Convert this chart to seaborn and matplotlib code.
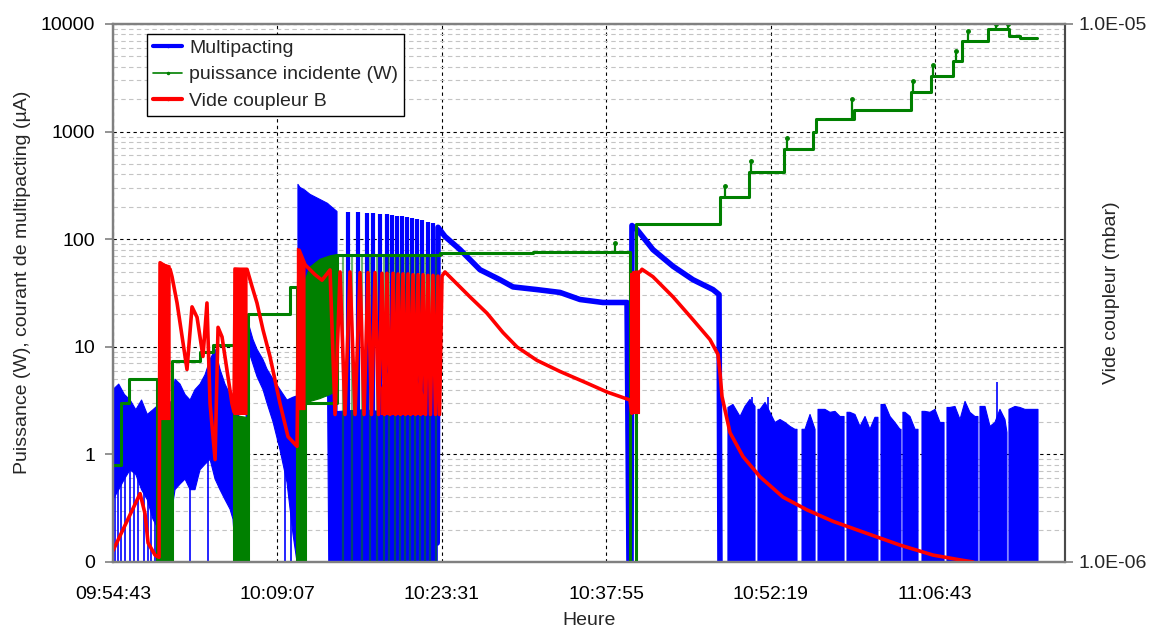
import numpy as np
import matplotlib
matplotlib.use("Agg")
import matplotlib.pyplot as plt
import seaborn as sns
from matplotlib.lines import Line2D
from matplotlib.ticker import LogLocator, NullLocator, NullFormatter

nan = np.nan

# time axis: minutes after 09:54:43
x_labels = ["09:54:43", "10:09:07", "10:23:31", "10:37:55", "10:52:19", "11:06:43"]
x_max = 83.4

# Multipacting (uA) - noisy envelopes (NaN separates pieces)
mp_band_t = [0.0, 0.5, 1.0, 1.5, 2.0, 2.5, 3.0, 3.5, 4.0, 4.56, 5.17, 5.43, 5.87, 6.31, 6.75, 7.18,
             7.62, 8.06, 8.50, 8.94, 9.37, 9.81, 10.25, 10.51, 10.77, 11.65, 11.83, 12.26, 12.61,
             13.14, 13.49, 14.02, 14.63, 15.24, 15.77, 16.12, nan,
             16.2, 16.38, 16.82, 16.9, 17.26, 18.13, 18.8, 18.9, 19.62, nan,
             19.62, 22.0, 25.0, 28.4]
mp_band_lo = [0.38, 0.47, 0.59, 0.72, 0.65, 0.47, 0.38, 0.25, 0.2, 0.28, 0.31, 0.47, 0.53, 0.59, 0.47,
              0.47, 0.72, 0.81, 0.9, 0.59, 0.47, 0.38, 0.31, 0.25, 0.1, 0.1, 9.5, 6.9, 5.3, 4.0,
              3.0, 2.0, 1.1, 0.55, 0.18, 0.1, nan,
              0.1, 0.1, 0.1, 3.5, 3.5, 3.5, 3.5, 0.1, 0.1, nan,
              0.1, 0.1, 0.1, 0.1]
mp_band_hi = [4.0, 4.5, 3.6, 3.2, 2.6, 3.2, 2.35, 2.6, 2.9, 2.6, 3.2, 5.0, 4.5, 3.6, 3.2, 4.0, 4.5,
              5.5, 7.6, 9.5, 6.2, 4.5, 3.6, 3.2, 2.4, 2.0, 16.9, 11.7, 9.5, 7.6, 6.2, 5.0, 4.0,
              3.2, 3.4, 3.5, nan,
              323, 303, 285, 280, 261, 234, 215, 210, 181, nan,
              2.5, 2.6, 2.4, 2.4]
# multipacting bursts
mp_spike_t = [20.59, 21.46, 22.25, 22.78, 23.39, 24.0, 24.44, 24.88, 25.32, 25.75, 26.19, 26.63,
              27.07, 27.59, 28.03]
mp_spike_top = [178, 178, 175, 175, 172, 170, 168, 165, 163, 160, 157, 153, 150, 146, 140]
# smooth parts
mp_t = [28.40, 28.47, 29.08, 30.40, 32.15, 33.90, 35.04, 37.14, 39.16, 40.91, 42.92, 45.03, 45.20,
        45.38, 45.46, 45.90, 47.30, 49.06, 50.81, 52.56, 53.09, 53.17]
mp_v = [0.15, 129, 106, 80, 52, 42, 36, 34, 32, 27.5, 25.8, 25.8, 0.1, 0.1, 134, 123, 80, 56, 42,
        34, 30.6, 0.1]
# noise after 10:48 (upper edge, NaN = gap)
mp_noise_t = [53.87, 54.31, 54.93, 55.36, 55.80, 56.24, nan,
              56.50, 56.68, 57.12, 57.55, 57.99, 58.43, 58.87, 59.31, 59.74, 59.92, nan,
              60.36, 60.62, 61.06, 61.50, nan,
              61.76, 61.93, 62.37, 62.81, 63.25, 63.69, 64.04, nan,
              64.30, 64.56, 65.00, 65.44, 65.88, 66.31, 66.75, 67.01, nan,
              67.28, 67.63, 68.07, 68.50, 68.94, 69.03, nan,
              69.20, 69.38, 69.82, 70.26, 70.52, nan,
              70.87, 71.13, 71.57, 72.01, 72.45, 72.80, nan,
              73.06, 73.32, 73.76, 74.20, 74.64, 75.07, 75.51, 75.77, nan,
              75.95, 76.39, 76.83, 77.26, 77.70, 78.14, 78.31, nan,
              78.49, 79.02, 79.45, 79.89, 80.33, 80.77, 81.03]
mp_noise_top = [2.73, 2.91, 2.25, 2.79, 3.24, 2.79, nan,
                2.62, 2.62, 3.04, 2.46, 1.98, 2.11, 1.98, 1.82, 1.71, 1.71, nan,
                1.71, 1.71, 2.35, 1.71, nan,
                2.62, 2.62, 2.62, 2.46, 2.51, 2.25, 2.25, nan,
                2.46, 2.46, 2.35, 1.82, 2.25, 1.71, 2.21, 2.21, nan,
                2.91, 2.91, 2.25, 1.98, 1.71, 1.71, nan,
                2.46, 2.46, 2.25, 1.71, 1.71, nan,
                2.51, 2.51, 2.46, 2.62, 1.98, 1.98, nan,
                2.73, 2.73, 2.79, 2.11, 3.11, 2.46, 2.25, 2.25, nan,
                2.79, 2.79, 1.82, 1.98, 2.62, 2.11, 1.60, nan,
                2.62, 2.79, 2.73, 2.62, 2.62, 2.62, 2.62]
# isolated vertical strokes
mp_vl_t = [0.18, 0.46, 0.70, 1.05, 1.49, 1.84, 2.22, 2.74, 3.04, 3.33, 3.68, 6.75, 8.32, 15.07,
           15.55, 55.97, 57.38, 77.44]
mp_vl_lo = [0.1] * 18
mp_vl_hi = [0.6, 0.6, 0.7, 0.8, 0.8, 0.7, 0.6, 0.5, 0.5, 0.4, 0.4, 0.6, 0.9, 1.1, 0.5, 3.39, 3.39, 4.67]

# puissance incidente (W) - staircase
pw_t = [0.0, 0.70, 1.40, 3.85, 5.17, 7.62, 8.80, 10.6, 11.83, 15.51, 16.12, 16.82, 19.62, 28.65,
        36.79, 45.29, 45.81, 53.17, 55.71, 58.78, 61.32, 61.58, 64.91, 69.90, 71.66, 73.58, 74.37,
        76.65, 78.49, 79.45, 80.94]
pw_v = [0.8, 3.0, 5.0, 0.1, 7.3, 9.0, 10.5, 0.1, 20, 36, 0.1, 3.0, 72, 75, 76, 0.1, 137, 245, 418,
        684, 1000, 1298, 1576, 2313, 3256, 4490, 6890, 8912, 7670, 7346, 7346]
pw_band_t = [3.90, 5.17, nan, 10.65, 11.8, nan, 16.12, 16.80, 16.84, 17.26, 18.13, 19.01, 19.62]
pw_band_lo = [0.1, 0.1, nan, 0.1, 0.1, nan, 0.1, 0.1, 3.0, 3.1, 3.3, 3.6, 3.9]
pw_band_hi = [2.1, 2.1, nan, 2.3, 2.2, nan, 3.0, 3.0, 42, 55, 65, 70, 72]
pw_drop_t = [20.15, 20.94, 21.81, 22.51, 23.13, 23.74, 24.18, 24.70, 25.14, 25.58, 26.02, 26.46,
             26.89, 27.33, 27.77, 28.29]
pw_blip_t = [43.98, 53.61, 55.89, 59.04, 64.74, 70.08, 71.83, 73.85, 74.90, 77.35, 78.40]
pw_blip_base = [76, 245, 418, 684, 1298, 2313, 3256, 4490, 6890, 8912, 8912]
pw_blip_top = [93, 310, 528, 865, 1992, 2930, 4120, 5560, 8530, 9910, 9910]

# Vide coupleur B (x 1e-6 mbar), right axis
vac_t = [0.0, 2.37, 2.80, 3.07, 3.68, 4.03, 4.12, 5.0, 5.17, 5.61, 6.48, 6.92, 7.36, 7.88, 8.23,
         8.50, 8.94, 9.20, 9.55, 10.07, 10.42, 10.6, 10.7, 11.74, 12.18, 12.61, 13.14, 13.75,
         14.63, 15.33, 16.12, 16.3, 16.82, 17.70, 18.31, 19.01,
         19.45, 19.89, 20.32, 20.76, 21.20, 21.64, 21.99, 22.34, 22.64, 22.95, 23.26, 23.56, 23.78,
         24.0, 24.27, 24.53, 24.75, 24.97, 25.18, 25.40, 25.62, 25.84, 26.06, 26.28, 26.50, 26.72,
         26.94, 27.16, 27.38, 27.59, 27.81, 28.03, 28.25, 28.47, 28.60,
         28.82, 29.08, 31.27, 32.76, 34.16, 35.39, 37.14, 39.16, 41.52, 43.27, 45.29, 45.45, 45.6,
         46.17, 46.34, 47.30, 49.06, 50.81, 52.30, 53.0, 53.17, 53.35, 54.05, 55.19, 56.68, 58.69,
         60.79, 63.07, 66.05, 68.94, 71.83, 74.20, 75.34]
vac_p = [1.05, 1.34, 1.23, 1.085, 1.03, 1.02, 3.6, 3.5, 3.39, 3.03, 2.28, 2.98, 2.85, 2.41, 3.03,
         1.97, 1.55, 2.73, 2.62, 2.21, 1.97, 1.9, 3.5, 3.5, 3.25, 3.03, 2.70, 2.41, 1.97, 1.71, 1.64,
         3.8, 3.57, 3.42, 3.34, 3.49,
         1.88, 3.46, 1.88, 3.46, 1.88, 3.45, 1.88, 3.45, 1.88, 3.45, 1.88, 3.44, 1.88, 3.44, 1.88,
         3.44, 1.88, 3.43, 1.88, 3.43, 1.88, 3.43, 1.88, 3.42, 1.88, 3.42, 1.88, 3.42, 1.88, 3.41,
         1.88, 3.41, 1.88, 3.40, 1.88,
         3.40, 3.46, 3.11, 2.90, 2.67, 2.51, 2.37, 2.26, 2.15, 2.07, 2.0, 1.89, 3.45, 3.46, 3.50,
         3.39, 3.11, 2.82, 2.59, 2.43, 2.25, 2.03, 1.74, 1.57, 1.44, 1.32, 1.25, 1.19, 1.13, 1.075,
         1.03, 1.009, 1.0]
vac_band_t = [4.10, 5.0, nan, 10.6, 11.74, nan, 16.15, 16.82, nan, 23.5, 24.3, 24.9, 25.6, 26.5,
              27.4, nan, 45.3, 46.1]
vac_band_lo = [1.84, 1.84, nan, 1.88, 1.88, nan, 1.92, 1.92, nan, 1.88, 1.88, 1.88, 1.88, 1.88,
               1.88, nan, 1.89, 1.89]
vac_band_hi = [3.6, 3.55, nan, 3.52, 3.5, nan, 3.83, 3.6, nan, 2.1, 2.3, 2.42, 2.3, 2.2, 2.0, nan,
               3.45, 3.45]
vac_scale = 1e-6

labels = ["Multipacting", "puissance incidente (W)", "Vide coupleur B"]


def to_min(s):
    h, m, sec = map(int, s.split(":"))
    return h * 60 + m + sec / 60


x_pos = [to_min(s) - to_min(x_labels[0]) for s in x_labels]

sns.set_theme(style="white")
plt.rcParams['font.family'] = ['Liberation Sans', 'DejaVu Sans']
fs = 14

fig = plt.figure(figsize=(11.51, 6.33), dpi=100)
ax = fig.add_axes([0.0982, 0.1122, 0.8271, 0.8499])
ax.set_yscale("log")

blue = "#0000ff"
green = "#008000"
red = "#ff0000"

# multipacting
ax.fill_between(mp_band_t, mp_band_lo, mp_band_hi, color=blue, lw=0.8, zorder=2)
ax.fill_between(mp_noise_t, 0.1, mp_noise_top, color=blue, lw=0.8, zorder=2)
ax.vlines(mp_vl_t, mp_vl_lo, mp_vl_hi, color=blue, lw=1.2, zorder=2)
ax.vlines(mp_spike_t, 0.1, mp_spike_top, color=blue, lw=3, zorder=2)
sns.lineplot(x=mp_t, y=mp_v, ax=ax, color=blue, lw=4, sort=False, estimator=None, zorder=2)

# puissance incidente
ax.fill_between(pw_band_t, pw_band_lo, pw_band_hi, color=green, lw=0.8, zorder=3)
ax.vlines(pw_drop_t, 0.1, 72, color=green, alpha=0.55, lw=1.6, zorder=3)
ax.vlines(pw_blip_t, pw_blip_base, pw_blip_top, color=green, lw=1.6, zorder=3)
ax.plot(pw_blip_t, pw_blip_top, ls="none", marker="o", ms=2.5, color=green, zorder=3)
sns.lineplot(x=pw_t, y=pw_v, ax=ax, color=green, lw=2.2, sort=False, estimator=None,
             drawstyle="steps-post", zorder=3)

# vide coupleur on the secondary axis
ax2 = ax.twinx()
ax2.set_yscale("log")
ax2.fill_between(vac_band_t, np.array(vac_band_lo) * vac_scale, np.array(vac_band_hi) * vac_scale,
                 color=red, lw=0.8)
sns.lineplot(x=vac_t, y=np.array(vac_p) * vac_scale, ax=ax2, color=red, lw=2.6, sort=False,
             estimator=None)

# axes
ax.set_xlim(0, x_max)
ax.set_ylim(0.1, 10000)
ax.set_xticks(x_pos)
ax.set_xticklabels(x_labels)
ax.set_yticks([0.1, 1, 10, 100, 1000, 10000])
ax.set_yticklabels(["0", "1", "10", "100", "1000", "10000"])
ax.yaxis.set_minor_locator(LogLocator(base=10, subs=np.arange(2, 10)))
ax.yaxis.set_minor_formatter(NullFormatter())
ax.xaxis.set_minor_locator(NullLocator())
ax.grid(which="major", axis="both", color="black", ls=(0, (3, 3)), lw=0.8)
ax.grid(which="minor", axis="y", color="#c4c4c4", ls=(0, (4, 3)), lw=0.8)
ax.set_axisbelow(True)
ax.tick_params(axis="both", which="major", direction="out", length=6, width=1.2, color="#808080",
               labelsize=fs, labelcolor="black")
ax.tick_params(axis="x", pad=11)
ax.tick_params(axis="y", pad=7)
ax.tick_params(which="minor", length=0)

ax2.set_ylim(1e-6, 1e-5)
ax2.set_yticks([1e-6, 1e-5])
ax2.set_yticklabels(["1.0E-06", "1.0E-05"])
ax2.yaxis.set_minor_locator(NullLocator())
ax2.tick_params(axis="y", direction="out", length=6, width=1.2, color="#808080", labelsize=fs,
                pad=4)

for a in (ax, ax2):
    for s in a.spines.values():
        s.set_color("#808080")
        s.set_linewidth(1.6)
ax2.spines["right"].set_color("#404040")
ax2.spines["right"].set_linewidth(1.2)

ax.set_xlabel("Heure", fontsize=fs)
ax.xaxis.set_label_coords(0.5, -0.093)
ax.set_ylabel("Puissance (W), courant de multipacting (\u00b5A)", fontsize=fs)
ax.yaxis.set_label_coords(-0.086, 0.52)
ax2.set_ylabel("Vide coupleur (mbar)", fontsize=fs)
ax2.yaxis.set_label_coords(1.04, 0.5)

handles = [Line2D([], [], color=blue, lw=3, marker=".", ms=3),
           Line2D([], [], color=green, lw=1.2, marker=".", ms=3),
           Line2D([], [], color=red, lw=3, marker=".", ms=3)]
leg = ax2.legend(handles, labels, loc="upper left", bbox_to_anchor=(0.036, 0.982), frameon=True,
                 fancybox=False, edgecolor="black", framealpha=1, fontsize=fs, borderpad=0.3,
                 labelspacing=0.45, handlelength=1.5, handletextpad=0.35, borderaxespad=0)
leg.get_frame().set_linewidth(1.0)

fig.savefig("out.png", dpi=100)
